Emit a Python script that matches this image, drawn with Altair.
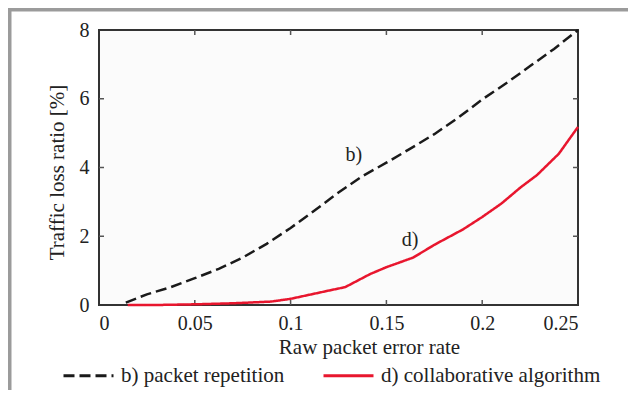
import altair as alt
import pandas as pd

S_B = "b) packet repetition"
S_D = "d) collaborative algorithm"

# Series b) packet repetition (dashed black)
x_b = [0.014, 0.025, 0.0375, 0.05, 0.0625, 0.075, 0.0875, 0.1, 0.1125, 0.125,
       0.1375, 0.15, 0.1625, 0.175, 0.1875, 0.2, 0.2125, 0.225, 0.2375, 0.25]
y_b = [0.07, 0.31, 0.52, 0.78, 1.05, 1.38, 1.78, 2.24, 2.75, 3.27,
       3.75, 4.14, 4.55, 4.97, 5.45, 5.98, 6.45, 6.95, 7.45, 8.0]

# Series d) collaborative algorithm (solid red)
x_d = [0.015, 0.03, 0.05, 0.07, 0.09, 0.1, 0.11, 0.12, 0.1285, 0.1415, 0.15,
       0.164, 0.175, 0.19, 0.2, 0.21, 0.22, 0.2286, 0.24, 0.2432, 0.25]
y_d = [0.0, 0.0, 0.02, 0.05, 0.1, 0.18, 0.3, 0.42, 0.52, 0.9, 1.1,
       1.38, 1.75, 2.2, 2.56, 2.95, 3.42, 3.78, 4.4, 4.65, 5.18]

# in-plot annotations
ann_x = [0.133, 0.1623]
ann_y = [4.36, 1.89]
ann_text = ["b)", "d)"]

x_tick_values = [0, 0.05, 0.1, 0.15, 0.2, 0.25]
y_tick_values = [0, 2, 4, 6, 8]
x_inner_ticks = [0.05, 0.1, 0.15, 0.2]
y_inner_ticks = [2, 4, 6]

W, H = 479, 275
FONT = "Liberation Serif"

lines_df = pd.DataFrame({
    "x": x_b + x_d,
    "y": y_b + y_d,
    "series": [S_B] * len(x_b) + [S_D] * len(x_d),
})
ann_df = pd.DataFrame({"x": ann_x, "y": ann_y, "label": ann_text})
xt_df = pd.DataFrame({"x": x_inner_ticks})
yt_df = pd.DataFrame({"y": y_inner_ticks})
one_df = pd.DataFrame({"a": [0]})

xs = alt.Scale(domain=[0, 0.25], nice=False, zero=False)
ys = alt.Scale(domain=[0, 8], nice=False)

lines = alt.Chart(lines_df).mark_line(strokeWidth=2.5).encode(
    x=alt.X("x:Q", scale=xs, axis=alt.Axis(
        values=x_tick_values, format="~g", title="Raw packet error rate",
        domain=False, ticks=False, grid=False, labelPadding=8,
        titleX=270, titleY=42, titleBaseline="middle",
    )),
    y=alt.Y("y:Q", scale=ys, axis=alt.Axis(
        values=y_tick_values, format="~g", title="Traffic loss ratio [%]",
        domain=False, ticks=False, grid=False, labelPadding=10,
        titleX=-42, titleY=142, titleAngle=-90, titleBaseline="middle",
    )),
    color=alt.Color("series:N", scale=alt.Scale(domain=[S_B, S_D], range=["#1a1a1a", "#e8162e"]),
                    legend=alt.Legend(title=None)),
    strokeDash=alt.StrokeDash("series:N", scale=alt.Scale(domain=[S_B, S_D], range=[[11, 5], [1, 0]]),
                              legend=alt.Legend(title=None)),
)

labels = alt.Chart(ann_df).mark_text(font=FONT, fontSize=20, color="#222").encode(
    x=alt.X("x:Q", scale=xs), y=alt.Y("y:Q", scale=ys), text="label:N"
)

tick_style = dict(color="#555", strokeWidth=1.5)
top_ticks = alt.Chart(xt_df).mark_rule(**tick_style).encode(
    x=alt.X("x:Q", scale=xs), y=alt.value(0), y2=alt.value(5))
bottom_ticks = alt.Chart(xt_df).mark_rule(**tick_style).encode(
    x=alt.X("x:Q", scale=xs), y=alt.value(H - 5), y2=alt.value(H))
left_ticks = alt.Chart(yt_df).mark_rule(**tick_style).encode(
    y=alt.Y("y:Q", scale=ys), x=alt.value(0), x2=alt.value(5))
right_ticks = alt.Chart(yt_df).mark_rule(**tick_style).encode(
    y=alt.Y("y:Q", scale=ys), x=alt.value(W - 5), x2=alt.value(W))

frame_left = alt.Chart(one_df).mark_rule(color="#9b9b9b", strokeWidth=4).encode(
    x=alt.value(-89.5), y=alt.value(-30), y2=alt.value(H + 90))
frame_top = alt.Chart(one_df).mark_rule(color="#9b9b9b", strokeWidth=4).encode(
    y=alt.value(-20.5), x=alt.value(-95), x2=alt.value(W + 60))

chart = alt.layer(
    frame_left, frame_top, top_ticks, bottom_ticks, left_ticks, right_ticks, lines, labels
).properties(
    width=W, height=H,
    background="white",
    autosize=alt.AutoSizeParams(type="none"),
    padding={"left": 91, "top": 22, "right": 50, "bottom": 85},
).configure_view(
    fill="#fbfbfb", stroke="#333", strokeWidth=2,
).configure_axis(
    labelFont=FONT, labelFontSize=20, labelColor="#222",
    titleFont=FONT, titleFontSize=21, titleColor="#222", titleFontWeight="normal",
).configure_legend(
    orient="none", legendX=-37, legendY=319, direction="horizontal",
    symbolType="stroke", symbolSize=2500, symbolStrokeWidth=3,
    labelFont=FONT, labelFontSize=21, labelColor="#222", labelOffset=6,
    columnPadding=32, padding=0, labelLimit=400,
)

chart.save("out.html", embed_options={"renderer": "svg", "actions": False})
